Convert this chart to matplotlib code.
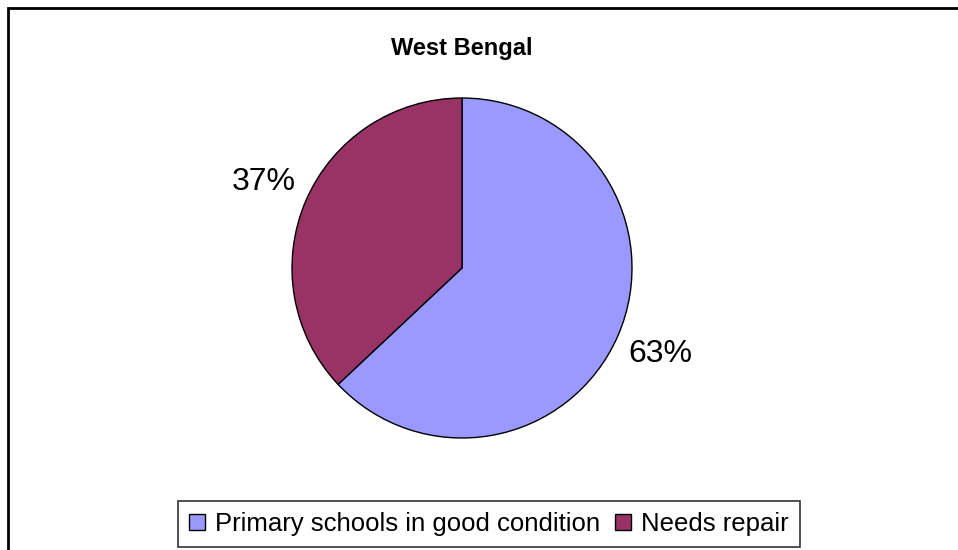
import matplotlib
matplotlib.use("Agg")
import matplotlib.pyplot as plt
from matplotlib.patches import Rectangle

plt.rcParams['font.family'] = ['Liberation Sans', 'DejaVu Sans']

# Data
labels = ["Primary schools in good condition", "Needs repair"]
shares = [63, 37]
colors = ["#9999FF", "#993366"]

W, H = 958, 550
fig = plt.figure(figsize=(W / 100, H / 100), dpi=100)

# outer chart frame (cut off at the right and bottom)
fig.patches.append(Rectangle((8 / W, -0.1), 1.2, 1 - 8 / H + 0.1,
                             transform=fig.transFigure, fill=False,
                             edgecolor="black", linewidth=2))

# pie centered at (462, 268), radius 170 px
cx, cy, r = 462, 268, 170
ax = fig.add_axes([(cx - r) / W, (H - cy - r) / H, 2 * r / W, 2 * r / H])
wedges, _, autotexts = ax.pie(shares, colors=colors, startangle=90,
                              counterclock=False, autopct="%d%%",
                              pctdistance=1.27, radius=1,
                              wedgeprops=dict(edgecolor="black", linewidth=1))
for t in autotexts:
    t.set_fontsize(23)
ax.set_xlim(-1, 1)
ax.set_ylim(-1, 1)
ax.set_aspect("equal")

fig.text(cx / W, 1 - 48 / H, "West Bengal", ha="center", va="center",
         fontsize=17, fontweight="bold")

leg = fig.legend(wedges, labels, loc="lower center",
                 bbox_to_anchor=(489 / W, 3 / H), ncol=2, fontsize=18.5,
                 frameon=True, fancybox=False, edgecolor="black",
                 handlelength=0.6, handleheight=0.6, handletextpad=0.4,
                 columnspacing=0.6, borderpad=0.42, borderaxespad=0)
leg.get_frame().set_linewidth(1.2)
for h in leg.legend_handles:
    h.set_edgecolor("black")

fig.savefig("out.png", dpi=100)
